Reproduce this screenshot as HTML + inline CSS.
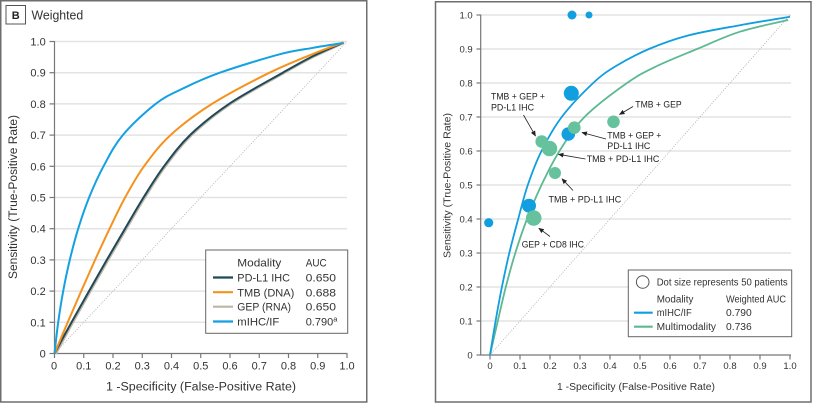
<!DOCTYPE html>
<html><head><meta charset="utf-8">
<style>
html,body{margin:0;padding:0;background:#fff;}
svg{display:block;font-family:"Liberation Sans",sans-serif;}
</style></head><body>
<svg width="814" height="404" viewBox="0 0 814 404" xmlns="http://www.w3.org/2000/svg">
<defs>
<marker id="ah" markerWidth="6" markerHeight="6" refX="5" refY="3" orient="auto" markerUnits="userSpaceOnUse"><path d="M0,0.6 L5.6,3 L0,5.4z" fill="#222"/></marker>
</defs>
<rect width="814" height="404" fill="#fff"/>

<!-- ============ LEFT PANEL ============ -->
<rect x="0.75" y="0.75" width="366" height="401.25" fill="none" stroke="#6e6e6e" stroke-width="1.5"/>
<rect x="6" y="5.5" width="19.5" height="18.5" fill="none" stroke="#555" stroke-width="1"/>
<text x="15.75" y="19" font-size="11" font-weight="bold" text-anchor="middle" fill="#222">B</text>
<text x="31.5" y="19.3" font-size="12.5" fill="#333" textLength="51.7" lengthAdjust="spacingAndGlyphs">Weighted</text>

<g stroke="#e3e3e3" stroke-width="1.5">
<line x1="54.5" y1="322.3" x2="347" y2="322.3"/>
<line x1="54.5" y1="291.1" x2="347" y2="291.1"/>
<line x1="54.5" y1="259.9" x2="347" y2="259.9"/>
<line x1="54.5" y1="228.7" x2="347" y2="228.7"/>
<line x1="54.5" y1="197.5" x2="347" y2="197.5"/>
<line x1="54.5" y1="166.3" x2="347" y2="166.3"/>
<line x1="54.5" y1="135.1" x2="347" y2="135.1"/>
<line x1="54.5" y1="103.9" x2="347" y2="103.9"/>
<line x1="54.5" y1="72.7" x2="347" y2="72.7"/>
<line x1="54.5" y1="41.5" x2="347" y2="41.5"/>
</g>
<line x1="54.5" y1="353.5" x2="347" y2="41.5" stroke="#aaa" stroke-width="0.8" stroke-dasharray="1,1.5"/>

<g stroke="#777" stroke-width="1.2">
<line x1="54.5" y1="41" x2="54.5" y2="354"/>
<line x1="54" y1="353.5" x2="347.5" y2="353.5"/>
<line x1="49.5" y1="353.5" x2="54.5" y2="353.5"/>
<line x1="49.5" y1="322.3" x2="54.5" y2="322.3"/>
<line x1="49.5" y1="291.1" x2="54.5" y2="291.1"/>
<line x1="49.5" y1="259.9" x2="54.5" y2="259.9"/>
<line x1="49.5" y1="228.7" x2="54.5" y2="228.7"/>
<line x1="49.5" y1="197.5" x2="54.5" y2="197.5"/>
<line x1="49.5" y1="166.3" x2="54.5" y2="166.3"/>
<line x1="49.5" y1="135.1" x2="54.5" y2="135.1"/>
<line x1="49.5" y1="103.9" x2="54.5" y2="103.9"/>
<line x1="49.5" y1="72.7" x2="54.5" y2="72.7"/>
<line x1="49.5" y1="41.5" x2="54.5" y2="41.5"/>
<line x1="54.5" y1="353.5" x2="54.5" y2="358"/>
<line x1="83.75" y1="353.5" x2="83.75" y2="358"/>
<line x1="113" y1="353.5" x2="113" y2="358"/>
<line x1="142.25" y1="353.5" x2="142.25" y2="358"/>
<line x1="171.5" y1="353.5" x2="171.5" y2="358"/>
<line x1="200.75" y1="353.5" x2="200.75" y2="358"/>
<line x1="230" y1="353.5" x2="230" y2="358"/>
<line x1="259.25" y1="353.5" x2="259.25" y2="358"/>
<line x1="288.5" y1="353.5" x2="288.5" y2="358"/>
<line x1="317.75" y1="353.5" x2="317.75" y2="358"/>
<line x1="347" y1="353.5" x2="347" y2="358"/>
</g>

<g font-size="11" fill="#333" text-anchor="end">
<text x="45.7" y="357.5">0</text>
<text x="45.7" y="326.3">0.1</text>
<text x="45.7" y="295.1">0.2</text>
<text x="45.7" y="263.9">0.3</text>
<text x="45.7" y="232.7">0.4</text>
<text x="45.7" y="201.5">0.5</text>
<text x="45.7" y="170.3">0.6</text>
<text x="45.7" y="139.1">0.7</text>
<text x="45.7" y="107.9">0.8</text>
<text x="45.7" y="76.7">0.9</text>
<text x="45.7" y="45.5">1.0</text>
</g>
<g font-size="11" fill="#333" text-anchor="middle">
<text x="54" y="369.7">0</text>
<text x="83.75" y="369.7">0.1</text>
<text x="113" y="369.7">0.2</text>
<text x="142.25" y="369.7">0.3</text>
<text x="171.5" y="369.7">0.4</text>
<text x="200.75" y="369.7">0.5</text>
<text x="230" y="369.7">0.6</text>
<text x="259.25" y="369.7">0.7</text>
<text x="288.5" y="369.7">0.8</text>
<text x="317.75" y="369.7">0.9</text>
<text x="347" y="369.7">1.0</text>
</g>
<text x="201" y="390.5" font-size="11.5" fill="#333" text-anchor="middle" textLength="190" lengthAdjust="spacingAndGlyphs">1 -Specificity (False-Positive Rate)</text>
<text transform="translate(17,197) rotate(-90)" font-size="11.5" fill="#333" text-anchor="middle" textLength="164" lengthAdjust="spacingAndGlyphs">Sensitivity (True-Positive Rate)</text>

<!-- left curves -->
<path transform="translate(1.4,0.4)" fill="none" stroke="#bdb6a5" stroke-width="2" d="M54.5,353.5 C57.33,348.3 65.75,332.7 71.5,322.3 C77.25,311.9 83.12,301.5 89,291.1 C94.88,280.7 100.8,270.3 106.8,259.9 C112.8,249.5 118.88,239.1 125,228.7 C131.12,218.3 137,207.9 143.5,197.5 C150,187.1 156.25,176.7 164,166.3 C171.75,155.9 179.17,145.5 190,135.1 C200.83,124.7 213.55,114.3 229,103.9 C244.45,93.5 268.65,80.68 282.7,72.7 C296.75,64.72 303.17,61.03 313.3,56 C323.43,50.97 338.47,44.75 342.5,42.6"/>
<path fill="none" stroke="#1f4858" stroke-width="2" d="M54.5,353.5 C57.33,348.3 65.75,332.7 71.5,322.3 C77.25,311.9 83.12,301.5 89,291.1 C94.88,280.7 100.8,270.3 106.8,259.9 C112.8,249.5 118.88,239.1 125,228.7 C131.12,218.3 137,207.9 143.5,197.5 C150,187.1 156.25,176.7 164,166.3 C171.75,155.9 179.17,145.5 190,135.1 C200.83,124.7 213.55,114.3 229,103.9 C244.45,93.5 268.65,80.68 282.7,72.7 C296.75,64.72 303.17,61.03 313.3,56 C323.43,50.97 338.47,44.75 343.5,42.5"/>
<path fill="none" stroke="#f5921e" stroke-width="2" d="M54.5,353.5 C56.7,348.3 63.25,332.7 67.7,322.3 C72.15,311.9 76.63,301.5 81.2,291.1 C85.77,280.7 90.37,270.3 95.1,259.9 C99.83,249.5 104.6,239.1 109.6,228.7 C114.6,218.3 119.37,207.9 125.1,197.5 C130.83,187.1 136.43,176.7 144,166.3 C151.57,155.9 159.17,145.5 170.5,135.1 C181.83,124.7 195.5,114.3 212,103.9 C228.5,93.5 252.62,81.05 269.5,72.7 C286.38,64.35 301.05,58.83 313.3,53.8 C325.55,48.77 338.05,44.38 343,42.5"/>
<path fill="none" stroke="#13a1e3" stroke-width="2" d="M54.5,353.5 C55.12,348.3 56.75,332.7 58.2,322.3 C59.65,311.9 61.27,301.5 63.2,291.1 C65.13,280.7 67.3,270.3 69.8,259.9 C72.3,249.5 74.98,239.1 78.2,228.7 C81.42,218.3 84.88,207.9 89.1,197.5 C93.32,187.1 97.88,176.7 103.5,166.3 C109.12,155.9 114.12,145.5 122.8,135.1 C131.48,124.7 145.58,111.67 155.6,103.9 C165.62,96.13 172.2,93.7 182.9,88.5 C193.6,83.3 203.62,78.42 219.8,72.7 C235.98,66.98 264.42,58.35 280,54.2 C295.58,50.05 302.87,49.65 313.3,47.8 C323.73,45.95 337.72,43.88 342.6,43.1"/>

<!-- left legend -->
<rect x="205.7" y="250" width="142" height="83.3" fill="#fff" stroke="#666" stroke-width="1"/>
<g font-size="11" fill="#333">
<text x="237.3" y="266.3" textLength="44" lengthAdjust="spacingAndGlyphs">Modality</text>
<text x="305.7" y="266.3" textLength="21" lengthAdjust="spacingAndGlyphs">AUC</text>
<text x="237.3" y="281.7" textLength="52.7" lengthAdjust="spacingAndGlyphs">PD-L1 IHC</text>
<text x="305.7" y="281.7" textLength="30.3" lengthAdjust="spacingAndGlyphs">0.650</text>
<text x="237.3" y="296.3" textLength="57" lengthAdjust="spacingAndGlyphs">TMB (DNA)</text>
<text x="305.7" y="296.3" textLength="30.3" lengthAdjust="spacingAndGlyphs">0.688</text>
<text x="237.3" y="310.7" textLength="53.7" lengthAdjust="spacingAndGlyphs">GEP (RNA)</text>
<text x="305.7" y="310.7" textLength="30.3" lengthAdjust="spacingAndGlyphs">0.650</text>
<text x="237.3" y="325.7" textLength="42" lengthAdjust="spacingAndGlyphs">mIHC/IF</text>
<text x="305.7" y="325.7">0.790<tspan font-size="7.5" dy="-4">a</tspan></text>
</g>
<g stroke-width="2.2">
<line x1="213" y1="277.5" x2="233" y2="277.5" stroke="#1f4858"/>
<line x1="213" y1="292.2" x2="233" y2="292.2" stroke="#f5921e"/>
<line x1="213" y1="306.7" x2="233" y2="306.7" stroke="#bdb6a5"/>
<line x1="213" y1="321.5" x2="233" y2="321.5" stroke="#13a1e3"/>
</g>

<!-- ============ RIGHT PANEL ============ -->
<rect x="435.5" y="1.75" width="375.5" height="400.25" fill="none" stroke="#6e6e6e" stroke-width="1.5"/>
<g stroke="#e3e3e3" stroke-width="1.5">
<line x1="480.7" y1="321" x2="791" y2="321"/>
<line x1="480.7" y1="287" x2="791" y2="287"/>
<line x1="480.7" y1="253" x2="791" y2="253"/>
<line x1="480.7" y1="219" x2="791" y2="219"/>
<line x1="480.7" y1="185" x2="791" y2="185"/>
<line x1="480.7" y1="151" x2="791" y2="151"/>
<line x1="480.7" y1="117" x2="791" y2="117"/>
<line x1="480.7" y1="83" x2="791" y2="83"/>
<line x1="480.7" y1="49" x2="791" y2="49"/>
<line x1="480.7" y1="15" x2="791" y2="15"/>
</g>
<line x1="490" y1="355" x2="790" y2="15" stroke="#aaa" stroke-width="0.8" stroke-dasharray="1,1.5"/>
<g stroke="#777" stroke-width="1.2">
<line x1="480.7" y1="14.5" x2="480.7" y2="355.5"/>
<line x1="480.2" y1="355" x2="791" y2="355"/>
<line x1="476.5" y1="355" x2="480.7" y2="355"/>
<line x1="476.5" y1="321" x2="480.7" y2="321"/>
<line x1="476.5" y1="287" x2="480.7" y2="287"/>
<line x1="476.5" y1="253" x2="480.7" y2="253"/>
<line x1="476.5" y1="219" x2="480.7" y2="219"/>
<line x1="476.5" y1="185" x2="480.7" y2="185"/>
<line x1="476.5" y1="151" x2="480.7" y2="151"/>
<line x1="476.5" y1="117" x2="480.7" y2="117"/>
<line x1="476.5" y1="83" x2="480.7" y2="83"/>
<line x1="476.5" y1="49" x2="480.7" y2="49"/>
<line x1="476.5" y1="15" x2="480.7" y2="15"/>
<line x1="490" y1="355" x2="490" y2="359.5"/>
<line x1="520" y1="355" x2="520" y2="359.5"/>
<line x1="550" y1="355" x2="550" y2="359.5"/>
<line x1="580" y1="355" x2="580" y2="359.5"/>
<line x1="610" y1="355" x2="610" y2="359.5"/>
<line x1="640" y1="355" x2="640" y2="359.5"/>
<line x1="670" y1="355" x2="670" y2="359.5"/>
<line x1="700" y1="355" x2="700" y2="359.5"/>
<line x1="730" y1="355" x2="730" y2="359.5"/>
<line x1="760" y1="355" x2="760" y2="359.5"/>
<line x1="790" y1="355" x2="790" y2="359.5"/>
</g>
<g font-size="9.5" fill="#333" text-anchor="end">
<text x="472.7" y="358.4">0</text>
<text x="472.7" y="324.4">0.1</text>
<text x="472.7" y="290.4">0.2</text>
<text x="472.7" y="256.4">0.3</text>
<text x="472.7" y="222.4">0.4</text>
<text x="472.7" y="188.4">0.5</text>
<text x="472.7" y="154.4">0.6</text>
<text x="472.7" y="120.4">0.7</text>
<text x="472.7" y="86.4">0.8</text>
<text x="472.7" y="52.4">0.9</text>
<text x="472.7" y="18.4">1.0</text>
</g>
<g font-size="9.5" fill="#333" text-anchor="middle">
<text x="490" y="369.2">0</text>
<text x="520" y="369.2">0.1</text>
<text x="550" y="369.2">0.2</text>
<text x="580" y="369.2">0.3</text>
<text x="610" y="369.2">0.4</text>
<text x="640" y="369.2">0.5</text>
<text x="670" y="369.2">0.6</text>
<text x="700" y="369.2">0.7</text>
<text x="730" y="369.2">0.8</text>
<text x="760" y="369.2">0.9</text>
<text x="790" y="369.2">1.0</text>
</g>
<text x="636" y="390" font-size="10" fill="#333" text-anchor="middle" textLength="158" lengthAdjust="spacingAndGlyphs">1 -Specificity (False-Positive Rate)</text>
<text transform="translate(450.3,185.5) rotate(-90)" font-size="10" fill="#333" text-anchor="middle" textLength="145" lengthAdjust="spacingAndGlyphs">Sensitivity (True-Positive Rate)</text>

<!-- right curves -->
<path fill="none" stroke="#5cb992" stroke-width="1.8" d="M490,355 C491.3,349.33 495.17,332.33 497.8,321 C500.43,309.67 502.88,298.33 505.8,287 C508.72,275.67 511.77,264.33 515.3,253 C518.83,241.67 522.63,230.33 527,219 C531.37,207.67 536.08,196.33 541.5,185 C546.92,173.67 552.33,162.33 559.5,151 C566.67,139.67 573.25,128.33 584.5,117 C595.75,105.67 614.92,91.5 627,83 C639.08,74.5 645.33,71.67 657,66 C668.67,60.33 683.18,54.72 697,49 C710.82,43.28 724.7,36.53 739.9,31.7 C755.1,26.87 780.15,21.95 788.2,20"/>
<path fill="none" stroke="#0f9ee0" stroke-width="1.8" d="M490,355 C490.93,349.33 493.62,332.33 495.6,321 C497.58,309.67 499.62,298.33 501.9,287 C504.18,275.67 506.58,264.33 509.3,253 C512.02,241.67 515.12,230.33 518.2,219 C521.28,207.67 523.92,196.33 527.8,185 C531.68,173.67 535.85,162.33 541.5,151 C547.15,139.67 553.08,128.33 561.7,117 C570.32,105.67 584.15,91.5 593.2,83 C602.25,74.5 606.7,71.67 616,66 C625.3,60.33 637,54.08 649,49 C661,43.92 672.85,39.47 688,35.5 C703.15,31.53 722.9,28.33 739.9,25.2 C756.9,22.07 781.65,18.12 790,16.7"/>

<!-- blue dots -->
<g fill="#129fe0">
<circle cx="572" cy="15" r="4.5"/>
<circle cx="589" cy="15" r="3.5"/>
<circle cx="571.3" cy="93.3" r="7.5"/>
<circle cx="568.3" cy="134" r="6.8"/>
<circle cx="529" cy="205.7" r="7"/>
<circle cx="488.7" cy="222.7" r="4.6"/>
</g>
<!-- green dots -->
<g fill="#66c29c">
<circle cx="613.5" cy="121.8" r="6.3"/>
<circle cx="574.3" cy="127.7" r="6.3"/>
<circle cx="541.7" cy="141.5" r="6.3"/>
<circle cx="549.5" cy="148.5" r="7.7"/>
<circle cx="555" cy="173" r="6"/>
<circle cx="533.7" cy="218" r="7.8"/>
</g>

<!-- annotations -->
<g stroke="#222" stroke-width="0.8" marker-end="url(#ah)">
<line x1="523.5" y1="115" x2="535.5" y2="136"/>
<line x1="633" y1="106.5" x2="619.5" y2="114.5"/>
<line x1="606" y1="139" x2="582" y2="132.5"/>
<line x1="585.5" y1="159" x2="558.5" y2="154.3"/>
<line x1="573" y1="190.5" x2="562" y2="178.8"/>
<line x1="550" y1="236.5" x2="538.8" y2="228.2"/>
</g>
<g font-size="9.5" fill="#222">
<text x="491" y="99.7" textLength="54" lengthAdjust="spacingAndGlyphs">TMB + GEP +</text>
<text x="491" y="110.5" textLength="43" lengthAdjust="spacingAndGlyphs">PD-L1 IHC</text>
<text x="635.3" y="107.3" textLength="46.3" lengthAdjust="spacingAndGlyphs">TMB + GEP</text>
<text x="607.3" y="138.3" textLength="54" lengthAdjust="spacingAndGlyphs">TMB + GEP +</text>
<text x="607.3" y="149" textLength="43" lengthAdjust="spacingAndGlyphs">PD-L1 IHC</text>
<text x="586.7" y="162" textLength="72.7" lengthAdjust="spacingAndGlyphs">TMB + PD-L1 IHC</text>
<text x="548.5" y="202.3" textLength="72.7" lengthAdjust="spacingAndGlyphs">TMB + PD-L1 IHC</text>
<text x="521.7" y="247.6" textLength="62.3" lengthAdjust="spacingAndGlyphs">GEP + CD8 IHC</text>
</g>

<!-- right legend -->
<rect x="628.3" y="270" width="163.4" height="66.7" fill="#fff" stroke="#666" stroke-width="1"/>
<circle cx="642.7" cy="282" r="6.3" fill="#fff" stroke="#555" stroke-width="1"/>
<g font-size="10" fill="#333">
<text x="656.7" y="285.6" textLength="131" lengthAdjust="spacingAndGlyphs">Dot size represents 50 patients</text>
<text x="656.7" y="302.7" textLength="36.7" lengthAdjust="spacingAndGlyphs">Modality</text>
<text x="726" y="302.7" textLength="60" lengthAdjust="spacingAndGlyphs">Weighted AUC</text>
<text x="656.7" y="316.2" textLength="35" lengthAdjust="spacingAndGlyphs">mIHC/IF</text>
<text x="726" y="316.2" textLength="25.7" lengthAdjust="spacingAndGlyphs">0.790</text>
<text x="656.7" y="330.2" textLength="59.3" lengthAdjust="spacingAndGlyphs">Multimodality</text>
<text x="726" y="330.2" textLength="25.7" lengthAdjust="spacingAndGlyphs">0.736</text>
</g>
<line x1="634" y1="312.7" x2="652.7" y2="312.7" stroke="#0f9ee0" stroke-width="2.2"/>
<line x1="634" y1="326.7" x2="652.7" y2="326.7" stroke="#5cb992" stroke-width="2.2"/>
</svg>
</body></html>
